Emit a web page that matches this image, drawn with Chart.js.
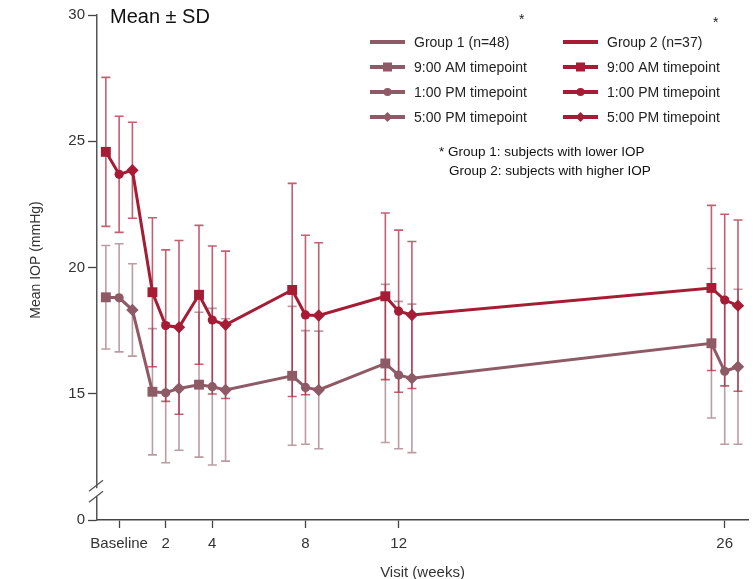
<!DOCTYPE html>
<html>
<head>
<meta charset="utf-8">
<script src="https://cdn.jsdelivr.net/npm/chart.js@4"></script>
<style>
  html, body { margin: 0; padding: 0; background: #fff; }
  #wrap { width: 755px; height: 579px; position: relative; }
</style>
</head>
<body>
<div id="wrap"><canvas id="iopChart" width="755" height="579"></canvas></div>
<script>
// visits (weeks) and tick labels
const visitWeeks = [0, 2, 4, 8, 12, 26];
const visitLabels = ['Baseline', '2', '4', '8', '12', '26'];
// within each visit: 9:00 AM, 1:00 PM, 5:00 PM
const timeOffsets = [-0.57, 0, 0.57];
const timeStyles = ['rect', 'circle', 'rectRot'];
const timeNames = ['9:00 AM timepoint', '1:00 PM timepoint', '5:00 PM timepoint'];

// Group 1 (lower IOP) means and SD, ordered visit by visit, 3 timepoints each
const group1Mean = [18.82, 18.80, 18.32, 15.08, 15.04, 15.21, 15.36, 15.28, 15.15, 15.71, 15.25, 15.15, 16.20, 15.74, 15.61, 17.00, 15.89, 16.07];
const group1SD   = [2.05, 2.14, 1.83, 2.50, 2.77, 2.45, 2.87, 3.10, 2.82, 2.75, 2.25, 2.33, 3.13, 2.92, 2.94, 2.96, 2.89, 3.07];
// Group 2 (higher IOP)
const group2Mean = [24.58, 23.69, 23.85, 19.02, 17.70, 17.63, 18.92, 17.92, 17.73, 19.11, 18.12, 18.10, 18.86, 18.27, 18.12, 19.19, 18.71, 18.49];
const group2SD   = [2.95, 2.30, 1.90, 2.95, 3.00, 3.44, 2.75, 2.93, 2.92, 4.22, 3.16, 2.88, 3.30, 3.21, 2.91, 3.27, 3.40, 3.39];

const yTicks = [10, 15, 20, 25, 30]; // bottom tick (10) is shown as 0, axis broken
const yTickLabels = ['0', '15', '20', '25', '30'];

const col1 = '#8E5A66', col1Bar = 'rgba(142,90,102,0.6)';
const col2 = '#A51C34', col2Bar = 'rgba(165,28,52,0.7)';
const FONT = '"Liberation Sans", Arial, sans-serif';

function buildPoints(means, sds) {
    const pts = [];
    visitWeeks.forEach((w, i) => {
        timeOffsets.forEach((off, j) => {
            const k = i * 3 + j;
            pts.push({ x: w + off, y: means[k], sd: sds[k] });
        });
    });
    return pts;
}
const styleArr = visitWeeks.flatMap(() => timeStyles);
const radiusArr = visitWeeks.flatMap(() => [7, 4.6, 6.2]);

// error bars behind lines
const errorBars = {
    id: 'errorBars',
    beforeDatasetsDraw(chart) {
        const ctx = chart.ctx, xs = chart.scales.x, ys = chart.scales.y;
        ctx.save();
        chart.data.datasets.forEach(ds => {
            ctx.strokeStyle = ds.barColor;
            ctx.lineWidth = 1.6;
            ds.data.forEach(p => {
                const px = xs.getPixelForValue(p.x);
                const top = ys.getPixelForValue(p.y + p.sd);
                const bot = ys.getPixelForValue(p.y - p.sd);
                ctx.beginPath();
                ctx.moveTo(px, top); ctx.lineTo(px, bot);
                ctx.moveTo(px - 4.5, top); ctx.lineTo(px + 4.5, top);
                ctx.moveTo(px - 4.5, bot); ctx.lineTo(px + 4.5, bot);
                ctx.stroke();
            });
        });
        ctx.restore();
    }
};

// title, legend, note and axis break
const decorations = {
    id: 'decorations',
    afterDraw(chart) {
        const ctx = chart.ctx, ys = chart.scales.y, area = chart.chartArea;
        ctx.save();
        // axis break
        const yb = ys.getPixelForValue(11.1);
        ctx.fillStyle = '#fff';
        ctx.fillRect(area.left - 3, yb - 4, 6, 8);
        ctx.strokeStyle = '#555';
        ctx.lineWidth = 1.3;
        ctx.beginPath();
        ctx.moveTo(area.left - 8, yb - 1); ctx.lineTo(area.left + 6, yb - 12);
        ctx.moveTo(area.left - 8, yb + 10); ctx.lineTo(area.left + 6, yb - 1);
        ctx.stroke();

        // y axis title
        ctx.save();
        ctx.translate(36, 260);
        ctx.rotate(-Math.PI / 2);
        ctx.textAlign = 'center';
        ctx.textBaseline = 'middle';
        ctx.font = '14px ' + FONT;
        ctx.fillStyle = '#333';
        ctx.fillText('Mean IOP (mmHg)', 0, 0);
        ctx.restore();

        ctx.fillStyle = '#111';
        ctx.textBaseline = 'middle';
        ctx.font = '20px ' + FONT;
        ctx.fillText('Mean \u00b1 SD', 110, 17);

        ctx.font = '14px ' + FONT;
        ctx.fillStyle = '#222';
        ctx.fillText('*', 519, 20);
        ctx.fillText('*', 713, 23);

        const cols = [
            { x: 370, color: col1, head: 'Group 1 (n=48)' },
            { x: 563, color: col2, head: 'Group 2 (n=37)' }
        ];
        const rowY = [42, 67, 92, 117];
        cols.forEach(c => {
            rowY.forEach((y, r) => {
                ctx.strokeStyle = c.color;
                ctx.lineWidth = 4;
                ctx.beginPath();
                ctx.moveTo(c.x, y); ctx.lineTo(c.x + 35, y);
                ctx.stroke();
                ctx.fillStyle = c.color;
                const mx = c.x + 17.5;
                if (r === 1) ctx.fillRect(mx - 4.5, y - 4.5, 9, 9);
                if (r === 2) { ctx.beginPath(); ctx.arc(mx, y, 4, 0, Math.PI * 2); ctx.fill(); }
                if (r === 3) {
                    ctx.beginPath();
                    ctx.moveTo(mx, y - 5); ctx.lineTo(mx + 5, y); ctx.lineTo(mx, y + 5); ctx.lineTo(mx - 5, y);
                    ctx.closePath(); ctx.fill();
                }
                ctx.fillStyle = '#222';
                ctx.fillText(r === 0 ? c.head : timeNames[r - 1], c.x + 44, y + 1);
            });
        });
        ctx.font = '13.5px ' + FONT;
        ctx.fillStyle = '#111';
        ctx.fillText('* Group 1: subjects with lower IOP', 439, 152);
        ctx.fillText('Group 2: subjects with higher IOP', 449, 171);
        ctx.restore();
    }
};

const ctx = document.getElementById('iopChart').getContext('2d');
new Chart(ctx, {
    type: 'line',
    data: {
        datasets: [
            {
                label: 'Group 1 (n=48)',
                data: buildPoints(group1Mean, group1SD),
                borderColor: col1, backgroundColor: col1, barColor: col1Bar,
                borderWidth: 3, pointStyle: styleArr, pointRadius: radiusArr,
                pointBorderWidth: 0, tension: 0
            },
            {
                label: 'Group 2 (n=37)',
                data: buildPoints(group2Mean, group2SD),
                borderColor: col2, backgroundColor: col2, barColor: col2Bar,
                borderWidth: 3, pointStyle: styleArr, pointRadius: radiusArr,
                pointBorderWidth: 0, tension: 0
            }
        ]
    },
    options: {
        responsive: false,
        animation: false,
        layout: { padding: { top: 15, right: 7, left: 29, bottom: 0 } },
        plugins: { legend: { display: false }, tooltip: { enabled: false } },
        scales: {
            x: {
                type: 'linear', min: -0.95, max: 27,
                afterBuildTicks: s => { s.ticks = visitWeeks.map(v => ({ value: v })); },
                afterFit: s => { s.height = 59; },
                ticks: {
                    color: '#333', padding: 7, maxRotation: 0, autoSkip: false,
                    font: { size: 15, family: FONT },
                    callback: v => visitLabels[visitWeeks.indexOf(v)]
                },
                grid: { display: true, drawOnChartArea: false, drawTicks: true, tickLength: 8, tickColor: '#444', tickWidth: 1.3 },
                border: { color: '#444', width: 1.5 },
                title: {
                    display: true, text: 'Visit (weeks)', color: '#333', padding: { top: 4, bottom: -3 },
                    font: { size: 15, family: FONT }
                }
            },
            y: {
                type: 'linear', min: 10, max: 30,
                afterBuildTicks: s => { s.ticks = yTicks.map(v => ({ value: v })); },
                afterFit: s => { s.width = 68; },
                ticks: {
                    color: '#333', padding: 3,
                    font: { size: 15, family: FONT },
                    callback: v => yTickLabels[yTicks.indexOf(v)]
                },
                grid: { display: true, drawOnChartArea: false, drawTicks: true, tickLength: 9, tickColor: '#444', tickWidth: 1.3 },
                border: { color: '#555', width: 1.5 }
            }
        }
    },
    plugins: [errorBars, decorations]
});
</script>
</body>
</html>
